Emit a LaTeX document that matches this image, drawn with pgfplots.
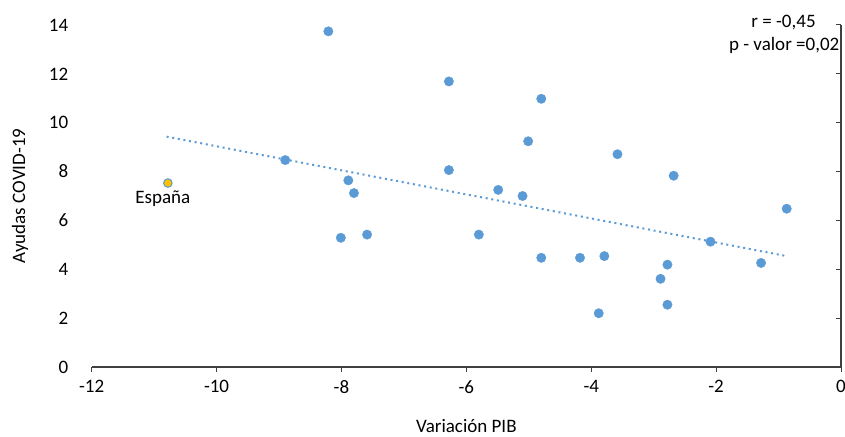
\documentclass[border=0pt]{standalone}
\usepackage{pgfplots}
\pgfplotsset{compat=1.18}
\usepackage{fontspec}
\setmainfont{Carlito}
\definecolor{ptblue}{HTML}{5B9BD5}
\definecolor{ptgold}{HTML}{FFC000}
\definecolor{axgray}{HTML}{404040}
\begin{document}
\fontsize{19pt}{23pt}\selectfont
\begin{tikzpicture}[x=1pt,y=1pt]
\useasboundingbox (-91.7,-69) rectangle (753.3,367);
\begin{axis}[
  at={(0,0)}, anchor=south west,
  scale only axis, width=749.3pt, height=342pt,
  xmin=-12, xmax=0, ymin=0, ymax=14,
  axis x line=bottom, axis y line=left,
  y axis line style={draw=none},
  x axis line style={draw=axgray, line width=1.3pt, -},
  xtick={-12,-10,...,0}, ytick={0,2,...,14},
  xtick style={draw=axgray, line width=1pt},
  ytick style={draw=none},
  tick align=outside, major tick length=5pt,
  /pgf/number format/assume math mode=true,
  ticklabel style={font=\fontsize{19pt}{23pt}\selectfont, text=black},
  xticklabel style={yshift=-2pt},
  yticklabel style={xshift=-12pt},
  xlabel={Variación PIB}, ylabel={Ayudas COVID-19},
  xlabel style={at={(axis description cs:0.5,0)}, anchor=center, yshift=-59pt, font=\fontsize{19pt}{23pt}\selectfont},
  ylabel style={at={(axis description cs:-0.0957,0.5)}, anchor=center, font=\fontsize{19pt}{23pt}\selectfont},
  clip=false,
]
\addplot[ptblue, line width=2pt, dash pattern=on 2pt off 3.7pt] coordinates {(-10.80,9.43) (-0.87,4.54)};
\addplot[only marks, mark=*, mark size=4.7pt, mark options={fill=ptblue, draw=ptblue, line width=0.4pt}] coordinates {
(-8.90,8.47) (-8.21,13.74) (-7.89,7.64) (-7.80,7.12) (-8.01,5.29) (-7.59,5.42)
(-6.28,11.69) (-6.28,8.06) (-5.49,7.25) (-5.80,5.42) (-5.10,7.00) (-5.01,9.24)
(-4.80,10.98) (-4.80,4.47) (-4.18,4.47) (-3.88,2.20) (-3.79,4.54) (-3.58,8.71)
(-2.89,3.61) (-2.78,4.19) (-2.78,2.55) (-2.68,7.83) (-2.09,5.13) (-1.28,4.26) (-0.87,6.48)
};
\addplot[only marks, mark=*, mark size=4.3pt, mark options={fill=ptgold, draw=ptblue, line width=1pt}] coordinates {(-10.78,7.53)};
\node[anchor=center] at (axis cs:-10.86,6.88) {España};
\node[anchor=center] at (axis cs:-0.92,14.09) {r = -0,45};
\node[anchor=center] at (axis cs:-0.91,13.15) {p - valor =0,02};
\end{axis}
\begin{axis}[
  at={(0,0)}, anchor=south west,
  scale only axis, width=749.3pt, height=342pt,
  xmin=-12, xmax=0, ymin=0, ymax=14,
  axis x line=none, axis y line=right,
  y axis line style={draw=axgray, line width=1.3pt, -},
  ytick={0,2,...,14}, yticklabels={},
  ytick style={draw=axgray, line width=1pt},
  tick align=inside, major tick length=5pt,
]
\end{axis}
\end{tikzpicture}
\end{document}
